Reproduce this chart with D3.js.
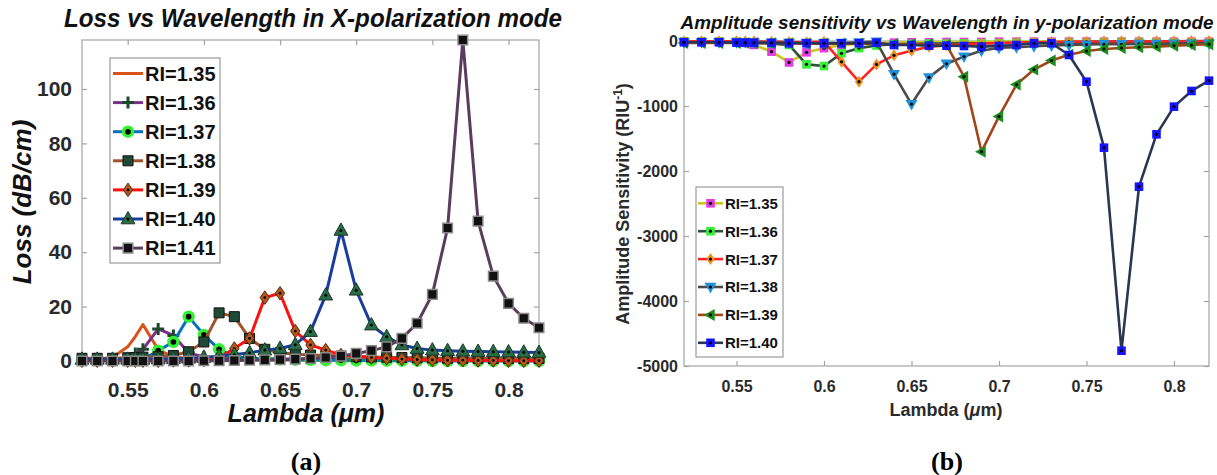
<!DOCTYPE html>
<html>
<head>
<meta charset="utf-8">
<script src="https://cdn.jsdelivr.net/npm/d3@7"></script>
<style>
  body { margin: 0; background: #fff; }
  svg { display: block; }
</style>
</head>
<body>
<svg id="fig" width="1217" height="475"></svg>
<script>
// Wavelength samples (µm), shared by both panels
const wavelengths = [0.52,0.53,0.54,0.55,0.555,0.56,0.57,0.58,0.59,0.60,0.61,0.62,0.63,0.64,0.65,0.66,0.67,0.68,0.69,0.70,0.71,0.72,0.73,0.74,0.75,0.76,0.77,0.78,0.79,0.80,0.81,0.82];

// Panel (a): confinement loss, x-polarization (dB/cm)
const lossRI135 = [0.4,0.5,1.3,5.2,9.0,13.4,4.2,1.4,1.0,0.8,0.7,0.6,0.6,0.5,0.5,0.5,0.4,0.4,0.4,0.4,0.3,0.3,0.3,0.3,0.3,0.3,0.3,0.2,0.2,0.2,0.2,0.2];
const lossRI136 = [0.5,0.5,0.6,1.0,2.8,4.3,11.8,9.4,3.0,1.5,1.0,0.8,0.8,0.7,0.7,0.6,0.6,0.6,0.5,0.5,0.5,0.5,0.5,0.4,0.4,0.4,0.4,0.4,0.4,0.4,0.4,0.4];
const lossRI137 = [0.2,0.2,0.2,0.3,0.3,0.5,3.8,7.0,16.3,9.6,4.3,1.6,1.0,0.8,0.6,0.5,0.4,0.3,0.3,0.2,0.2,0.1,0.1,0.1,0,0,0,0,0,0,0,0];
const lossRI138 = [1.0,1.0,1.0,1.2,1.3,1.4,1.6,2.0,3.4,7.0,17.7,16.3,8.3,4.3,3.0,2.5,2.2,2.0,1.8,1.6,1.5,1.4,1.3,1.2,1.1,1.0,1.0,1.0,0.9,0.9,0.9,0.9];
const lossRI139 = [0.1,0.1,0.1,0.1,0.1,0.1,0.1,0.2,0.2,0.4,1.2,4.6,8.3,23.3,24.9,11.0,5.9,4.0,2.2,1.8,1.3,1.0,0.7,0.5,0.4,0.3,0.3,0.2,0.2,0.1,0.1,0.1];
const lossRI140 = [0.6,0.6,0.6,0.6,0.6,0.6,0.7,0.8,1.0,1.3,1.8,2.3,3.0,4.0,4.6,6.0,10.8,24.2,48.0,26.0,13.2,8.9,5.9,4.6,4.0,3.8,3.6,3.5,3.4,3.3,3.2,3.1];
const lossRI141 = [0,0,0,0,0,0,0,0,0,0.1,0.1,0.2,0.3,0.4,0.5,0.7,0.9,1.3,1.8,2.8,3.8,5.2,8.3,13.9,24.5,48.9,118,51.4,31.2,21.2,15.7,12.2];

// Panel (b): amplitude sensitivity, y-polarization (RIU^-1)
const sensRI135 = [-10,-10,-10,-15,-30,-60,-164,-330,-174,-110,-60,-40,-30,-25,-20,-20,-15,-15,-15,-10,-10,-10,-10,-10,-10,-10,-10,-10,-10,-10,-10,-10];
const sensRI136 = [-10,-10,-10,-15,-20,-25,-40,-60,-359,-385,-190,-110,-70,-50,-45,-40,-40,-35,-35,-35,-30,-30,-30,-30,-30,-25,-25,-25,-25,-25,-25,-25];
const sensRI137 = [-5,-5,-5,-5,-5,-5,-10,-15,-20,-10,-320,-626,-360,-220,-150,-90,-65,-50,-40,-30,-25,-20,-15,-10,-10,-5,-5,-5,-5,-5,0,0];
const sensRI138 = [-20,-20,-20,-20,-20,-25,-25,-25,-30,-30,-30,-20,-10,-510,-970,-560,-350,-240,-150,-105,-95,-80,-70,-60,-55,-50,-50,-45,-45,-40,-40,-40];
const sensRI139 = [-30,-30,-30,-30,-30,-30,-35,-35,-40,-40,-40,-40,-45,-45,-50,-50,-60,-549,-1703,-1160,-670,-440,-300,-210,-154,-123,-108,-97,-87,-72,-62,-50];
const sensRI140 = [-20,-20,-20,-25,-25,-26,-30,-35,-35,-35,-35,-35,-26,-62,-62,-72,-72,-77,-87,-77,-62,-35,-35,-215,-626,-1641,-4765,-2241,-1436,-1010,-769,-610];

// Legend labels and tick values
const lossLabels = ["RI=1.35","RI=1.36","RI=1.37","RI=1.38","RI=1.39","RI=1.40","RI=1.41"];
const sensLabels = ["RI=1.35","RI=1.36","RI=1.37","RI=1.38","RI=1.39","RI=1.40"];
const lambdaTicks = [0.55,0.6,0.65,0.7,0.75,0.8];
const lossTicks = [0,20,40,60,80,100];
const sensTicks = [0,-1000,-2000,-3000,-4000,-5000];

const SANS = "'Liberation Sans', Arial, Helvetica, sans-serif";
const SERIF = "'Liberation Serif', 'Times New Roman', serif";
const svg = d3.select("#fig");

// ---------- marker shapes ----------
function shapePath(type, h) {
  switch (type) {
    case "square":  return `M${-h},${-h}H${h}V${h}H${-h}Z`;
    case "diamond": return `M0,${-h*1.3}L${h*0.9},0L0,${h*1.3}L${-h*0.9},0Z`;
    case "triUp":   return `M0,${-h*1.25}L${h*1.15},${h*0.8}L${-h*1.15},${h*0.8}Z`;
    case "triDown": return `M0,${h*1.25}L${h*1.15},${-h*0.8}L${-h*1.15},${-h*0.8}Z`;
    case "triLeft": return `M${-h*1.25},0L${h*0.8},${-h*1.15}L${h*0.8},${h*1.15}Z`;
    case "plus":    return `M${-h},0H${h}M0,${-h}V${h}`;
  }
  return "";
}

function drawMarker(g, m, x, y) {
  if (!m) return;
  if (m.type === "ring") {
    g.append("circle").attr("cx", x).attr("cy", y).attr("r", m.size)
      .attr("fill", m.fill).attr("stroke", m.stroke || "none").attr("stroke-width", m.sw || 0);
    g.append("circle").attr("cx", x).attr("cy", y).attr("r", m.dot).attr("fill", "#000");
    return;
  }
  const p = g.append("path").attr("d", shapePath(m.type, m.size))
    .attr("transform", `translate(${x},${y})`);
  if (m.type === "plus") {
    p.attr("fill", "none").attr("stroke", m.stroke).attr("stroke-width", m.sw);
  } else {
    p.attr("fill", m.fill).attr("stroke", m.stroke || "none").attr("stroke-width", m.sw || 0);
  }
  if (m.dot) {
    g.append("circle").attr("cx", x).attr("cy", y).attr("r", m.dot).attr("fill", "#000");
  }
}

// ---------- panel builder ----------
function panel(cfg) {
  const x = d3.scaleLinear().domain([0.52, 0.82]).range([cfg.left, cfg.right]);
  const y = d3.scaleLinear().domain(cfg.yDomain).range([cfg.bottom, cfg.top]);
  const g = svg.append("g");
  const fmt = d => String(d);

  // box with inward ticks on all sides
  g.append("rect").attr("x", cfg.left).attr("y", cfg.top)
    .attr("width", cfg.right - cfg.left).attr("height", cfg.bottom - cfg.top)
    .attr("fill", "none").attr("stroke", cfg.axisColor).attr("stroke-width", 1.2);

  const styleAxis = (sel) => {
    sel.select(".domain").remove();
    sel.selectAll(".tick line").attr("stroke", cfg.axisColor).attr("stroke-width", 1.2);
    sel.attr("font-family", SANS).attr("font-size", cfg.tickFont).attr("font-weight", "bold");
    sel.selectAll(".tick text").attr("fill", "#2a2a2a");
  };

  const ax = g.append("g").attr("transform", `translate(0,${cfg.bottom})`)
    .call(d3.axisBottom(x).tickValues(lambdaTicks).tickSize(-cfg.tickLen).tickFormat(fmt));
  styleAxis(ax);
  ax.selectAll(".tick text").attr("y", cfg.xLabelBase).attr("dy", null);

  const axT = g.append("g").attr("transform", `translate(0,${cfg.top})`)
    .call(d3.axisTop(x).tickValues(lambdaTicks).tickSize(-cfg.tickLen).tickFormat(""));
  styleAxis(axT);

  const ay = g.append("g").attr("transform", `translate(${cfg.left},0)`)
    .call(d3.axisLeft(y).tickValues(cfg.yTicks).tickSize(-cfg.tickLen).tickPadding(cfg.yPad).tickFormat(fmt));
  styleAxis(ay);
  ay.selectAll(".tick text").attr("x", -cfg.yPad);

  const ayR = g.append("g").attr("transform", `translate(${cfg.right},0)`)
    .call(d3.axisRight(y).tickValues(cfg.yTicks).tickSize(-cfg.tickLen).tickFormat(""));
  styleAxis(ayR);

  // series lines then markers
  const line = d3.line().x((d, i) => x(wavelengths[i])).y(d => y(d));
  cfg.series.forEach(s => {
    g.append("path").datum(s.values).attr("d", line)
      .attr("fill", "none").attr("stroke", s.color).attr("stroke-width", cfg.lineWidth)
      .attr("stroke-linejoin", "round");
    const mg = g.append("g");
    s.values.forEach((v, i) => drawMarker(mg, s.marker, x(wavelengths[i]), y(v)));
  });

  // legend
  const L = cfg.legend;
  const lg = svg.append("g");
  lg.append("rect").attr("x", L.x0).attr("y", L.y0).attr("width", L.x1 - L.x0).attr("height", L.y1 - L.y0)
    .attr("fill", "#fff").attr("stroke", "#9a9a9a").attr("stroke-width", 1.2);
  cfg.series.forEach((s, k) => {
    const yy = L.first + k * L.step;
    lg.append("line").attr("x1", L.lx0).attr("x2", L.lx1).attr("y1", yy).attr("y2", yy)
      .attr("stroke", s.color).attr("stroke-width", cfg.lineWidth);
    drawMarker(lg, s.marker, (L.lx0 + L.lx1) / 2, yy);
    lg.append("text").attr("x", L.tx).attr("y", yy).attr("dy", "0.36em")
      .attr("font-family", SANS).attr("font-weight", "bold").attr("font-size", L.font)
      .attr("fill", "#111").text(s.label);
  });
  return { x, y };
}

// ---------- panel (a) ----------
const lossSeries = [
  { values: lossRI135, color: "#D95319", marker: null },
  { values: lossRI136, color: "#7E2F8E", marker: { type: "plus", size: 6, stroke: "#1d4a2c", sw: 3 } },
  { values: lossRI137, color: "#0072BD", marker: { type: "ring", size: 6.2, fill: "#33f033", dot: 2.8 } },
  { values: lossRI138, color: "#A0522D", marker: { type: "square", size: 5, fill: "#1f4b36", stroke: "#111", sw: 1 } },
  { values: lossRI139, color: "#FF1010", marker: { type: "diamond", size: 5.2, fill: "#b4571e", stroke: "#5a2a0a", sw: 1, dot: 1.4 } },
  { values: lossRI140, color: "#1b3c9c", marker: { type: "triUp", size: 6, fill: "#2a6b48", stroke: "#163a26", sw: 1, dot: 1.5 } },
  { values: lossRI141, color: "#5b3b5e", marker: { type: "square", size: 4.8, fill: "#111", stroke: "#8a8a8a", sw: 1.5 } }
].map((s, i) => ({ ...s, label: lossLabels[i] }));

panel({
  left: 82, right: 539, top: 40, bottom: 361,
  yDomain: [0, 118], yTicks: lossTicks,
  axisColor: "#a3a3a3", tickLen: 5, tickFont: 21, xLabelBase: 36, yPad: 10,
  lineWidth: 3, series: lossSeries,
  legend: { x0: 110, x1: 220, y0: 58, y1: 263, first: 73.5, step: 29.1, lx0: 113, lx1: 143, tx: 145, font: 20 }
});

// ---------- panel (b) ----------
const sensSeries = [
  { values: sensRI135, color: "#c9c81c", marker: { type: "square", size: 4.3, fill: "#e23be2", dot: 1.6 } },
  { values: sensRI136, color: "#2f4d3c", marker: { type: "square", size: 4.3, fill: "#35f035", dot: 1.6 } },
  { values: sensRI137, color: "#ff2222", marker: { type: "diamond", size: 4.6, fill: "#e8901f", dot: 1.6 } },
  { values: sensRI138, color: "#4a4a4a", marker: { type: "triDown", size: 5.2, fill: "#1f8fd6", dot: 1.6 } },
  { values: sensRI139, color: "#a2451c", marker: { type: "triLeft", size: 5.2, fill: "#1b8c1b", dot: 1.6 } },
  { values: sensRI140, color: "#2b3652", marker: { type: "square", size: 4.3, fill: "#1414ff", dot: 1.6 } }
].map((s, i) => ({ ...s, label: sensLabels[i] }));

panel({
  left: 684, right: 1209, top: 41, bottom: 366,
  yDomain: [-5000, 0], yTicks: sensTicks,
  axisColor: "#a3a3a3", tickLen: 5, tickFont: 16, xLabelBase: 26, yPad: 6,
  lineWidth: 2.6, series: sensSeries,
  legend: { x0: 696, x1: 783, y0: 187, y1: 357, first: 203.3, step: 27.9, lx0: 698, lx1: 723, tx: 725, font: 15 }
});

// ---------- titles and axis labels ----------
const T = svg.append("g").attr("font-family", SANS).attr("font-weight", "bold").attr("fill", "#111");

T.append("text").attr("x", 313).attr("y", 27).attr("text-anchor", "middle")
  .attr("font-size", 26).attr("font-style", "italic")
  .attr("textLength", 498).attr("lengthAdjust", "spacingAndGlyphs")
  .text("Loss vs Wavelength in X-polarization mode");

T.append("text").attr("transform", "translate(31,202) rotate(-90)").attr("text-anchor", "middle")
  .attr("font-size", 26).attr("font-style", "italic")
  .text("Loss (dB/cm)");

const xlA = T.append("text").attr("x", 306).attr("y", 422).attr("text-anchor", "middle")
  .attr("font-size", 25).attr("font-style", "italic");
xlA.append("tspan").text("Lambda (");
xlA.append("tspan").text("μ");
xlA.append("tspan").text("m)");

T.append("text").attr("x", 947).attr("y", 29).attr("text-anchor", "middle")
  .attr("font-size", 19).attr("font-style", "italic")
  .attr("textLength", 533).attr("lengthAdjust", "spacingAndGlyphs")
  .text("Amplitude sensitivity vs Wavelength in y-polarization mode");

const ylB = T.append("text").attr("transform", "translate(629,204) rotate(-90)").attr("text-anchor", "middle")
  .attr("font-size", 18).attr("fill", "#2a2a2a");
ylB.append("tspan").text("Amplitude Sensitivity (RIU");
ylB.append("tspan").attr("font-size", 12).attr("dy", -7).text("-1");
ylB.append("tspan").attr("dy", 7).text(")");

const xlB = T.append("text").attr("x", 946).attr("y", 416).attr("text-anchor", "middle")
  .attr("font-size", 18).attr("fill", "#2a2a2a");
xlB.append("tspan").text("Lambda (");
xlB.append("tspan").attr("font-style", "italic").text("μ");
xlB.append("tspan").text("m)");

// sub-figure captions
svg.append("text").attr("x", 306).attr("y", 470).attr("text-anchor", "middle")
  .attr("font-family", SERIF).attr("font-weight", "bold").attr("font-size", 26).attr("fill", "#000").text("(a)");
svg.append("text").attr("x", 947).attr("y", 470).attr("text-anchor", "middle")
  .attr("font-family", SERIF).attr("font-weight", "bold").attr("font-size", 26).attr("fill", "#000").text("(b)");
</script>
</body>
</html>
